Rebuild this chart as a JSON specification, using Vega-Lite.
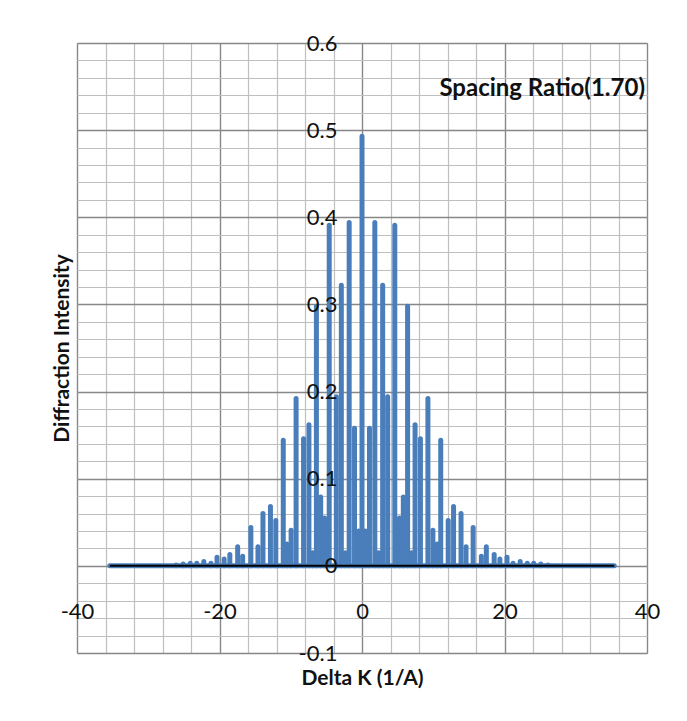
{
  "$schema": "https://vega.github.io/schema/vega-lite/v6.json",
  "width": 570,
  "height": 610,
  "autosize": {"type": "none"},
  "padding": {"left": 77, "top": 43, "right": 40, "bottom": 68},
  "background": "white",
  "config": {"view": {"stroke": "#878787", "strokeWidth": 1}, "font": "Lato"},
  "title": {"text": "Spacing Ratio(1.70)", "anchor": "end", "frame": "group", "orient": "top", "offset": -81, "baseline": "middle", "fontSize": 24, "font": "Lato", "fontWeight": "bold", "color": "#111111", "dx": -2},
  "datasets": {
    "baseline": [{"k": -35.4, "i": 0}, {"k": 35.4, "i": 0}],
    "peaks": [
      {"k": 0, "i": 0.493},
      {"k": 0.45, "i": 0.04}, {"k": -0.45, "i": 0.04},
      {"k": 1.05, "i": 0.158}, {"k": -1.05, "i": 0.158},
      {"k": 1.8, "i": 0.394}, {"k": -1.8, "i": 0.394},
      {"k": 2.35, "i": 0.015}, {"k": -2.35, "i": 0.015},
      {"k": 2.9, "i": 0.322}, {"k": -2.9, "i": 0.322},
      {"k": 3.6, "i": 0.194}, {"k": -3.6, "i": 0.194},
      {"k": 4.6, "i": 0.391}, {"k": -4.6, "i": 0.391},
      {"k": 5.25, "i": 0.055}, {"k": -5.25, "i": 0.055},
      {"k": 5.8, "i": 0.079}, {"k": -5.8, "i": 0.079},
      {"k": 6.4, "i": 0.298}, {"k": -6.4, "i": 0.298},
      {"k": 6.95, "i": 0.015}, {"k": -6.95, "i": 0.015},
      {"k": 7.45, "i": 0.162}, {"k": -7.45, "i": 0.162},
      {"k": 8.2, "i": 0.146}, {"k": -8.2, "i": 0.146},
      {"k": 9.25, "i": 0.192}, {"k": -9.25, "i": 0.192},
      {"k": 9.95, "i": 0.041}, {"k": -9.95, "i": 0.041},
      {"k": 10.55, "i": 0.025}, {"k": -10.55, "i": 0.025},
      {"k": 11.05, "i": 0.144}, {"k": -11.05, "i": 0.144},
      {"k": 12.1, "i": 0.052}, {"k": -12.1, "i": 0.052},
      {"k": 12.85, "i": 0.068}, {"k": -12.85, "i": 0.068},
      {"k": 13.9, "i": 0.06}, {"k": -13.9, "i": 0.06},
      {"k": 14.6, "i": 0.022}, {"k": -14.6, "i": 0.022},
      {"k": 15.6, "i": 0.044}, {"k": -15.6, "i": 0.044},
      {"k": 16.75, "i": 0.011}, {"k": -16.75, "i": 0.011},
      {"k": 17.45, "i": 0.022}, {"k": -17.45, "i": 0.022},
      {"k": 18.55, "i": 0.013}, {"k": -18.55, "i": 0.013},
      {"k": 19.35, "i": 0.008}, {"k": -19.35, "i": 0.008},
      {"k": 20.35, "i": 0.01}, {"k": -20.35, "i": 0.01},
      {"k": 21.2, "i": 0.003}, {"k": -21.2, "i": 0.003},
      {"k": 22.2, "i": 0.005}, {"k": -22.2, "i": 0.005},
      {"k": 23.2, "i": 0.003}, {"k": -23.2, "i": 0.003},
      {"k": 24.1, "i": 0.003}, {"k": -24.1, "i": 0.003},
      {"k": 25.1, "i": 0.002}, {"k": -25.1, "i": 0.002},
      {"k": 26.1, "i": 0.001}, {"k": -26.1, "i": 0.001}
    ]
  },
  "resolve": {"axis": {"x": "independent", "y": "independent"}},
  "layer": [
    {
      "data": {"name": "baseline"},
      "mark": {"type": "line", "color": "#4A7EBB", "strokeWidth": 5, "strokeCap": "round"},
      "encoding": {
        "x": {"field": "k", "type": "quantitative", "scale": {"domain": [-40, 40], "nice": false, "zero": false},
          "axis": {"orient": "bottom", "values": [-40,-36,-32,-28,-24,-20,-16,-12,-8,-4,0,4,8,12,16,20,24,28,32,36,40], "grid": true, "gridColor": "#BFBFBF", "gridWidth": 1.2, "labels": false, "ticks": false, "domain": false, "zindex": 0,
            "title": "Delta K  (1/A)", "titleFont": "Lato", "titleFontSize": 21, "titleFontWeight": "bold", "titleColor": "#111111", "titlePadding": 14}},
        "y": {"field": "i", "type": "quantitative", "scale": {"domain": [-0.1, 0.6], "nice": false, "zero": false},
          "axis": {"orient": "left", "values": [-0.1,-0.08,-0.06,-0.04,-0.02,0,0.02,0.04,0.06,0.08,0.1,0.12,0.14,0.16,0.18,0.2,0.22,0.24,0.26,0.28,0.3,0.32,0.34,0.36,0.38,0.4,0.42,0.44,0.46,0.48,0.5,0.52,0.54,0.56,0.58,0.6], "grid": true, "gridColor": "#BFBFBF", "gridWidth": 1.2, "labels": false, "ticks": false, "domain": false, "zindex": 0,
            "title": "Diffraction Intensity", "titleFont": "Lato", "titleFontSize": 21, "titleFontWeight": "bold", "titleColor": "#111111", "titlePadding": 5}}
      }
    },
    {
      "data": {"name": "peaks"},
      "mark": {"type": "rule", "color": "#4A7EBB", "strokeWidth": 5, "strokeCap": "round"},
      "encoding": {
        "x": {"field": "k", "type": "quantitative",
          "axis": {"orient": "bottom", "values": [-40, -20, 0, 20, 40], "grid": true, "gridColor": "#878787", "gridWidth": 1.3, "labels": false, "ticks": false, "domain": false, "title": null, "zindex": 0}},
        "y": {"field": "i", "type": "quantitative",
          "axis": {"orient": "left", "values": [-0.1, 0, 0.1, 0.2, 0.3, 0.4, 0.5, 0.6], "grid": true, "gridColor": "#878787", "gridWidth": 1.3, "labels": false, "ticks": false, "domain": false, "title": null, "zindex": 0}},
        "y2": {"datum": 0}
      }
    },
    {
      "data": {"name": "baseline"},
      "mark": {"type": "line", "color": "#000000", "strokeWidth": 2},
      "encoding": {
        "x": {"field": "k", "type": "quantitative",
          "axis": {"orient": "bottom", "offset": -86, "values": [-40, -20, 0, 20, 40], "grid": false, "ticks": false, "domain": false, "labelPadding": 34, "labelFont": "Lato", "labelFontSize": 22, "labelColor": "#111111", "labelFlush": false, "labelOverlap": false, "labelExpr": "toString(datum.value)", "title": null, "zindex": 1}},
        "y": {"field": "i", "type": "quantitative",
          "axis": {"orient": "left", "offset": -285, "values": [-0.1, 0, 0.1, 0.2, 0.3, 0.4, 0.5, 0.6], "grid": false, "ticks": false, "domain": false, "labelPadding": 25, "labelFont": "Lato", "labelFontSize": 22, "labelColor": "#111111", "labelOverlap": false, "labelExpr": "toString(datum.value)", "title": null, "zindex": 1}}
      }
    }
  ]
}
